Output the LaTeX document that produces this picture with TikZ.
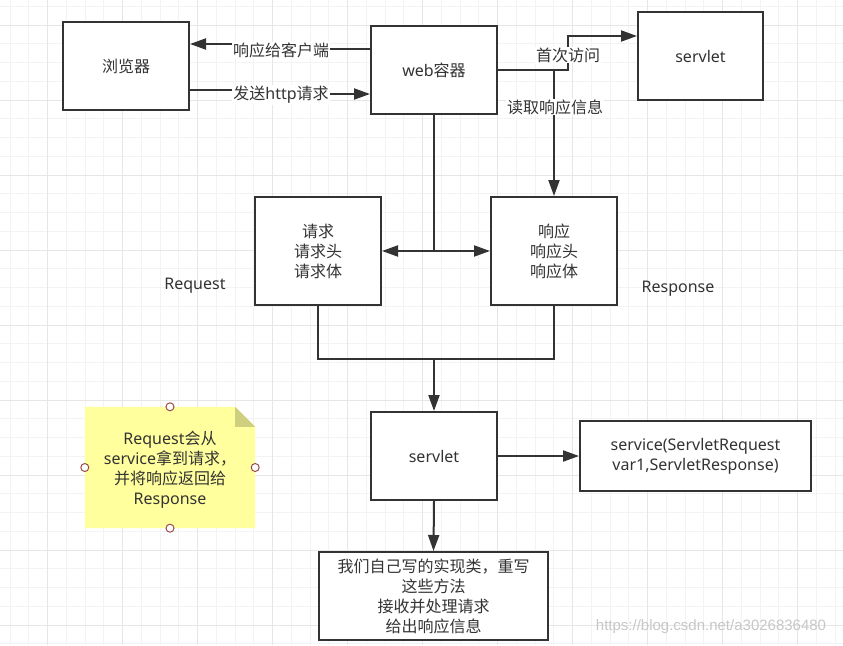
\documentclass[tikz,border=0pt]{standalone}
\usepackage{fontspec}
\setmainfont{Noto Sans}
\newfontfamily\zh{Noto Sans CJK SC}
\newfontfamily\wmfont{Liberation Sans}
\usetikzlibrary{arrows.meta,calc}
\definecolor{ink}{HTML}{333333}
\definecolor{gridminor}{HTML}{F3F3F3}
\definecolor{gridmajor}{HTML}{E6E6E6}
\definecolor{notefill}{HTML}{FFFF9E}
\definecolor{foldfill}{HTML}{CFCF80}
\definecolor{handlecol}{HTML}{9A4A4A}
\begin{document}
\begin{tikzpicture}[x=1pt,y=-1pt,
  font=\fontsize{16}{20}\selectfont, text=ink,
  box/.style={draw=ink,line width=2pt,fill=white,inner sep=0pt,align=center},
  conn/.style={draw=ink,line width=2pt},
  arr/.style={conn,-{Triangle[length=16pt,width=11pt]}},
  dblarr/.style={conn,{Triangle[length=16pt,width=11pt]}-{Triangle[length=16pt,width=11pt]}},
  lbl/.style={fill=white,inner sep=1pt},
  freelbl/.style={inner sep=0pt},
  handle/.style={draw=handlecol,line width=1pt,fill=white}]
\useasboundingbox (0,0) rectangle (843,645);
\fill[white] (0,0) rectangle (843,645);
% grid
\begin{scope}
\clip (0,0) rectangle (843,645);
\foreach \x in {10,28.75,...,843} \draw[gridminor,line width=1pt] (\x,0) -- (\x,645);
\foreach \y in {6.25,25,...,645} \draw[gridminor,line width=1pt] (0,\y) -- (843,\y);
\foreach \x in {47.5,122.5,...,843} \draw[gridmajor,line width=1pt] (\x,0) -- (\x,645);
\foreach \y in {25,100,...,645} \draw[gridmajor,line width=1pt] (0,\y) -- (843,\y);
\end{scope}

% nodes
\node[box,minimum width=126pt,minimum height=88pt] (browser) at (126,66) {{\zh 浏览器}};
\node[box,minimum width=126pt,minimum height=88pt] (web) at (434,70) {web{\zh 容器}};
\node[box,minimum width=125pt,minimum height=88pt] (servletA) at (700.5,56) {servlet};
\node[box,minimum width=126pt,minimum height=108pt] (req) at (318,251) {{\zh 请求}\\{\zh 请求头}\\{\zh 请求体}};
\node[box,minimum width=126pt,minimum height=108pt] (resp) at (554,251) {{\zh 响应}\\{\zh 响应头}\\{\zh 响应体}};
\node[box,minimum width=126pt,minimum height=88pt] (servletB) at (434,456) {servlet};
\node[box,minimum width=231pt,minimum height=70pt] (service) at (695.5,456) {service(ServletRequest\\var1,ServletResponse)};
\node[box,minimum width=229pt,minimum height=88pt] (impl) at (433.5,596) {{\zh 我们自己写的实现类，重写}\\{\zh 这些方法}\\{\zh 接收并处理请求}\\{\zh 给出响应信息}};

\node[freelbl] (reqlbl) at (195,286) {Request};
\node[freelbl] (resplbl) at (678,289) {Response};

% note
\node[minimum width=170pt,minimum height=121pt,inner sep=0pt] (note) at (170,467.5) {};
\fill[notefill] (note.north west) -- ($(note.north east)+(-20,0)$) -- ($(note.north east)+(0,20)$) -- (note.south east) -- (note.south west) -- cycle;
\fill[foldfill] ($(note.north east)+(-20,0)$) -- ($(note.north east)+(-20,20)$) -- ($(note.north east)+(0,20)$) -- cycle;
\node[align=center,inner sep=0pt] (notetext) at (170,470) {Request{\zh 会从}\\service{\zh 拿到请求，}\\{\zh 并将响应返回给}\\Response};
\draw[handle] (note.north) circle (4pt);
\draw[handle] (note.south) circle (4pt);
\draw[handle] (note.west) circle (4pt);
\draw[handle] (note.east) circle (4pt);

% connectors
\coordinate (jw) at (568,70);
\coordinate (jwt) at (568,36);
\coordinate (jr) at (554,70);
\coordinate (jc) at (434,251);
\coordinate (jb) at (434,359);

\draw[arr] (web.west |- 0,49) -- (281,49) -- (281,44) -- (browser.east |- 0,44);
\node[lbl] (l1) at (281,50) {{\zh 响应给客户端}};
\draw[arr] (browser.east |- 0,90) -- (281,90) -- (281,94) -- (web.west |- 0,94);
\node[lbl] (l2) at (281,95) {{\zh 发送}http{\zh 请求}};

\draw[arr] (web.east |- jw) -- (jw) -- (jwt) -- (servletA.west |- jwt);
\draw[arr] (jr) -- (resp.north);
\node[lbl] (l3) at (568,55) {{\zh 首次访问}};
\node[lbl] (l4) at (555,107) {{\zh 读取响应信息}};

\draw[conn] (web.south) -- (jc);
\draw[dblarr] (req.east) -- (resp.west);

\draw[conn] (req.south) -- (req.south |- jb) -- (resp.south |- jb) -- (resp.south);
\draw[arr] (jb) -- (servletB.north);
\draw[arr] (servletB.east) -- (service.west);
\draw[arr] (servletB.south) -- (impl.north);

% watermark
\node[inner sep=0pt,text=black!22,font=\wmfont\fontsize{15}{18}\selectfont] (wm) at (711,627) {https://blog.csdn.net/a3026836480};
\end{tikzpicture}
\end{document}
